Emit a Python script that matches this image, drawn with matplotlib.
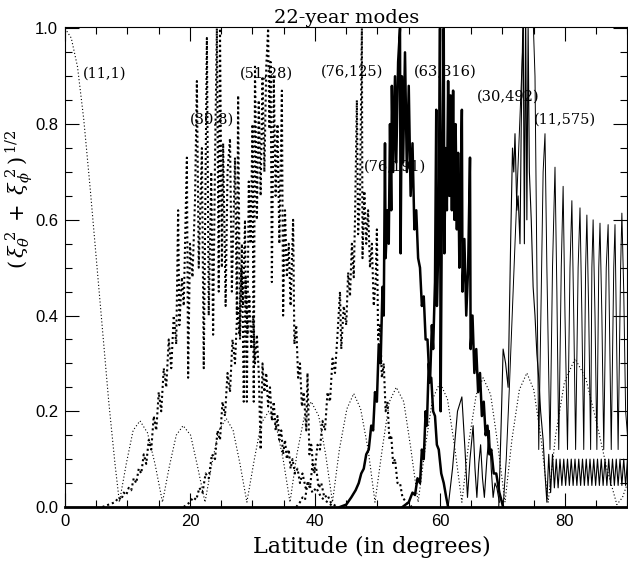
import matplotlib
matplotlib.use("Agg")
import matplotlib.pyplot as plt
from matplotlib.ticker import MultipleLocator

# (latitude, amplitude) pairs
MODE_11_1 = [
    (0, 1.0), (1, 0.98), (2, 0.92), (3, 0.81), (4, 0.67), (5, 0.52), (6, 0.37),
    (7, 0.22), (8, 0.09), (8.7, 0.01),
    (9.8, 0.09), (10.9, 0.16), (12.0, 0.18), (13.2, 0.155), (14.4, 0.09), (15.6, 0.01),
    (16.7, 0.085), (17.8, 0.15), (18.9, 0.17), (20.1, 0.15), (21.2, 0.085), (22.4, 0.01),
    (23.5, 0.09), (24.6, 0.16), (25.8, 0.185), (26.9, 0.16), (28.0, 0.09), (29.1, 0.01),
    (30.3, 0.10), (31.4, 0.175), (32.6, 0.20), (33.7, 0.175), (34.9, 0.10), (36.0, 0.01),
    (37.1, 0.11), (38.3, 0.19), (39.4, 0.22), (40.6, 0.19), (41.7, 0.11), (42.8, 0.01),
    (43.9, 0.12), (45.1, 0.205), (46.2, 0.237), (47.3, 0.205), (48.5, 0.12), (49.6, 0.01),
    (50.8, 0.125), (51.9, 0.22), (53.0, 0.25), (54.2, 0.22), (55.3, 0.125), (56.5, 0.01),
    (57.7, 0.13), (58.8, 0.225), (60.0, 0.26), (61.2, 0.225), (62.3, 0.13), (63.5, 0.01),
    (64.6, 0.135), (65.8, 0.235), (66.9, 0.27), (68.1, 0.235), (69.2, 0.135), (70.4, 0.01),
    (71.5, 0.14), (72.7, 0.245), (73.9, 0.28), (75.0, 0.245), (76.2, 0.14), (77.3, 0.01),
    (78.5, 0.15), (79.9, 0.26), (81.6, 0.31), (83.3, 0.27), (85.0, 0.18), (86.7, 0.08),
    (88.3, 0.005), (89.2, 0.02), (90.0, 0.05),
]

MODE_30_8 = [
    (6.0, 0.0), (7.0, 0.005), (8.0, 0.01), (8.6, 0.02), (9.0, 0.015), (9.4, 0.03),
    (9.8, 0.025), (10.2, 0.04), (10.6, 0.035), (11.0, 0.06), (11.4, 0.05), (11.8, 0.08),
    (12.2, 0.07), (12.6, 0.11), (13.0, 0.09), (13.4, 0.14), (13.8, 0.12), (14.2, 0.19),
    (14.6, 0.16), (15.0, 0.24), (15.4, 0.20), (15.8, 0.29), (16.2, 0.25), (16.6, 0.35),
    (17.0, 0.29), (17.4, 0.40), (17.8, 0.34), (18.1, 0.62), (18.3, 0.38), (18.7, 0.48),
    (19.0, 0.42), (19.5, 0.73), (19.7, 0.27), (20.0, 0.55), (20.4, 0.48), (20.8, 0.64),
    (21.1, 0.89), (21.4, 0.50), (21.9, 0.75), (22.2, 0.29), (22.7, 0.98), (23.0, 0.40),
    (23.4, 0.70), (23.7, 0.36), (24.0, 0.72), (24.3, 1.0), (24.6, 0.45), (24.8, 1.0),
    (25.1, 0.50), (25.3, 0.76), (25.7, 0.42), (26.0, 0.70), (26.4, 0.77), (26.7, 0.45),
    (27.2, 0.73), (27.5, 0.40), (27.7, 0.86), (28.0, 0.35), (28.3, 0.55), (28.6, 0.22),
    (28.9, 0.48), (29.2, 0.36), (29.5, 0.44), (29.8, 0.33), (30.1, 0.40), (30.4, 0.30),
    (30.7, 0.36), (31.0, 0.28), (31.3, 0.12), (31.6, 0.30), (31.9, 0.24), (32.2, 0.28),
    (32.5, 0.21), (32.8, 0.25), (33.1, 0.18), (33.4, 0.22), (33.7, 0.16), (34.0, 0.19),
    (34.3, 0.14), (34.6, 0.16), (34.9, 0.11), (35.2, 0.14), (35.5, 0.10), (35.8, 0.12),
    (36.1, 0.08), (36.4, 0.10), (36.8, 0.07), (37.2, 0.08), (37.6, 0.05), (38.0, 0.07),
    (38.5, 0.04), (39.0, 0.05), (39.6, 0.03), (40.2, 0.04), (41.0, 0.02), (42.0, 0.01),
    (43.0, 0.0),
]

MODE_51_28 = [
    (19.0, 0.0), (20.0, 0.01), (20.5, 0.02), (21.0, 0.015), (21.5, 0.04), (22.0, 0.03),
    (22.5, 0.07), (23.0, 0.06), (23.5, 0.11), (24.0, 0.10), (24.4, 0.16), (24.8, 0.14),
    (25.2, 0.22), (25.6, 0.19), (26.0, 0.28), (26.4, 0.24), (26.8, 0.35), (27.2, 0.30),
    (27.6, 0.42), (27.9, 0.36), (28.2, 0.50), (28.5, 0.42), (28.8, 0.60), (29.1, 0.22),
    (29.4, 0.68), (29.7, 0.55), (30.0, 0.80), (30.2, 0.22), (30.4, 0.92), (30.7, 0.60),
    (31.0, 0.85), (31.3, 0.65), (31.6, 0.90), (31.9, 0.70), (32.2, 0.92), (32.5, 1.0),
    (32.7, 0.79), (32.9, 0.93), (33.1, 0.47), (33.4, 0.90), (33.7, 0.65), (34.0, 0.80),
    (34.3, 0.55), (34.7, 0.87), (34.9, 0.40), (35.2, 0.62), (35.5, 0.48), (35.8, 0.55),
    (36.1, 0.42), (36.5, 0.60), (36.7, 0.34), (37.0, 0.38), (37.3, 0.27), (37.6, 0.30),
    (37.9, 0.21), (38.2, 0.24), (38.6, 0.16), (38.8, 0.28), (39.1, 0.11), (39.4, 0.13),
    (39.8, 0.07), (40.2, 0.08), (40.6, 0.04), (41.0, 0.05), (41.5, 0.02), (42.0, 0.025),
    (42.5, 0.01), (43.5, 0.0),
]

MODE_76_125 = [
    (37.0, 0.0), (37.6, 0.01), (38.0, 0.02), (38.4, 0.015), (38.8, 0.05), (39.2, 0.04),
    (39.6, 0.09), (40.0, 0.08), (40.4, 0.13), (40.8, 0.12), (41.2, 0.18), (41.6, 0.16),
    (42.0, 0.24), (42.4, 0.22), (42.8, 0.31), (43.2, 0.28), (43.6, 0.36), (44.0, 0.45),
    (44.2, 0.33), (44.6, 0.42), (45.0, 0.38), (45.3, 0.49), (45.6, 0.44), (45.9, 0.55),
    (46.2, 0.48), (46.4, 0.60), (46.7, 0.85), (46.9, 0.57), (47.2, 0.65), (47.5, 1.0),
    (47.6, 0.52), (47.9, 0.66), (48.2, 0.55), (48.5, 0.62), (48.8, 0.50), (49.1, 0.55),
    (49.4, 0.42), (49.7, 0.47), (49.9, 0.58), (50.1, 0.35), (50.4, 0.38), (50.7, 0.27),
    (51.0, 0.30), (51.3, 0.20), (51.6, 0.22), (51.9, 0.14), (52.2, 0.15), (52.5, 0.09),
    (52.8, 0.10), (53.2, 0.05), (53.6, 0.05), (54.0, 0.02), (54.6, 0.01), (55.5, 0.0),
]

MODE_76_191 = [
    (44.0, 0.0), (45.0, 0.005), (45.8, 0.02), (46.5, 0.035), (47.0, 0.05), (47.4, 0.07),
    (47.8, 0.08), (48.2, 0.11), (48.6, 0.12), (49.0, 0.17), (49.3, 0.16), (49.6, 0.24),
    (49.9, 0.22), (50.2, 0.34), (50.5, 0.30), (50.8, 0.46), (51.0, 0.40), (51.2, 0.76),
    (51.3, 0.52), (51.6, 0.62), (51.8, 0.55), (52.0, 0.80), (52.2, 0.62), (52.3, 0.88),
    (52.5, 0.70), (52.8, 0.90), (53.0, 0.72), (53.3, 0.93), (53.6, 1.0), (53.7, 0.53),
    (53.9, 0.90), (54.1, 0.72), (54.4, 0.95), (54.7, 0.70), (55.0, 0.88), (55.3, 0.65),
    (55.6, 0.76), (55.9, 0.58), (56.2, 0.62), (56.5, 0.52), (56.8, 0.50), (57.1, 0.42),
    (57.4, 0.44), (57.7, 0.35), (58.0, 0.35), (58.3, 0.27), (58.6, 0.27), (58.9, 0.20),
    (59.2, 0.19), (59.5, 0.13), (59.8, 0.12), (60.2, 0.07), (60.6, 0.05), (61.0, 0.02),
    (61.3, 0.0),
]

# thin solid bumps between the (63,316) and (30,492) envelopes
MODE_TAIL = [
    (61.3, 0.0), (62.0, 0.08), (62.8, 0.20), (63.5, 0.23), (64.0, 0.12), (64.4, 0.02),
    (64.8, 0.10), (65.3, 0.17), (65.6, 0.08), (65.9, 0.02), (66.2, 0.09), (66.5, 0.13),
    (66.8, 0.06), (67.1, 0.02), (67.5, 0.10), (67.9, 0.16), (68.2, 0.08), (68.5, 0.02),
    (68.8, 0.05), (69.1, 0.04), (69.5, 0.01),
]

MODE_63_316 = [
    (54.0, 0.0), (55.0, 0.01), (55.6, 0.03), (56.0, 0.025), (56.4, 0.06), (56.8, 0.05),
    (57.1, 0.12), (57.4, 0.10), (57.7, 0.20), (57.9, 0.17), (58.2, 0.30), (58.4, 0.26),
    (58.7, 0.38), (58.9, 0.33), (59.2, 0.47), (59.4, 0.83), (59.5, 0.42), (59.8, 0.58),
    (60.0, 1.0), (60.1, 0.20), (60.3, 0.62), (60.6, 1.0), (60.7, 0.53), (60.9, 0.75),
    (61.1, 0.62), (61.3, 0.89), (61.5, 0.65), (61.7, 0.86), (61.9, 0.62), (62.1, 0.87),
    (62.3, 0.60), (62.5, 0.80), (62.7, 0.58), (62.9, 0.74), (63.1, 0.50), (63.3, 0.66),
    (63.5, 0.83), (63.6, 0.45), (63.9, 0.56), (64.2, 0.40), (64.5, 0.50), (64.8, 0.73),
    (64.9, 0.33), (65.2, 0.40), (65.5, 0.28), (65.8, 0.33), (66.1, 0.24), (66.4, 0.28),
    (66.7, 0.19), (67.0, 0.22), (67.3, 0.15), (67.6, 0.17), (67.9, 0.11), (68.2, 0.12),
    (68.6, 0.07), (69.0, 0.07), (69.5, 0.03), (70.1, 0.0),
]

MODE_30_492 = [
    (69.4, 0.0), (69.8, 0.18), (70.1, 0.33), (70.5, 0.30), (70.9, 0.25), (71.3, 0.55),
    (71.6, 0.75), (71.8, 0.70), (72.0, 0.78), (72.3, 0.62), (72.5, 0.65), (72.8, 0.55),
    (73.0, 0.80), (73.3, 1.05), (73.5, 0.55), (73.7, 1.05), (73.9, 0.60), (74.1, 1.0),
    (74.3, 0.70), (74.6, 0.60), (74.9, 0.46), (75.2, 0.40), (75.5, 0.32), (75.8, 0.27),
    (76.1, 0.20), (76.5, 0.14), (76.8, 0.07), (77.1, 0.01),
    (77.4, 0.11), (77.7, 0.03), (78.0, 0.11), (78.3, 0.04), (78.6, 0.10), (78.9, 0.04),
    (79.2, 0.10), (79.5, 0.045), (79.8, 0.10), (80.1, 0.045), (80.4, 0.10), (80.7, 0.045),
    (81.0, 0.10), (81.3, 0.045), (81.6, 0.10), (81.9, 0.045), (82.2, 0.10), (82.5, 0.045),
    (82.8, 0.10), (83.1, 0.045), (83.4, 0.10), (83.7, 0.045), (84.0, 0.10), (84.3, 0.045),
    (84.6, 0.10), (84.9, 0.045), (85.2, 0.10), (85.5, 0.045), (85.8, 0.10), (86.1, 0.045),
    (86.4, 0.10), (86.7, 0.045), (87.0, 0.10), (87.3, 0.045), (87.6, 0.10), (87.9, 0.045),
    (88.2, 0.10), (88.5, 0.045), (88.8, 0.10), (89.1, 0.045), (89.4, 0.10), (89.7, 0.045),
    (90.0, 0.10),
]

MODE_11_575 = [
    (70.1, 0.0), (70.6, 0.10), (71.1, 0.25), (71.7, 0.45), (72.3, 0.65), (72.9, 0.85),
    (73.5, 1.05), (74.7, 1.1), (75.2, 0.90), (75.5, 0.50), (75.8, 0.12), (76.2, 0.45),
    (76.5, 0.70), (76.8, 0.78), (77.1, 0.50), (77.6, 0.12), (78.0, 0.50), (78.4, 0.71),
    (78.7, 0.45), (79.0, 0.12), (79.4, 0.50), (79.7, 0.67), (80.0, 0.40), (80.4, 0.12),
    (80.8, 0.50), (81.1, 0.64), (81.4, 0.40), (81.7, 0.12), (82.1, 0.50), (82.4, 0.625),
    (82.7, 0.40), (83.0, 0.12), (83.3, 0.50), (83.5, 0.61), (83.8, 0.40), (84.1, 0.12),
    (84.3, 0.50), (84.5, 0.60), (84.8, 0.40), (85.1, 0.12), (85.4, 0.50), (85.6, 0.593),
    (85.9, 0.40), (86.2, 0.12), (86.6, 0.50), (86.9, 0.59), (87.1, 0.40), (87.4, 0.12),
    (87.8, 0.50), (88.0, 0.59), (88.2, 0.40), (88.5, 0.12), (88.9, 0.50), (89.1, 0.614),
    (89.4, 0.45), (89.7, 0.20), (90.0, 0.15),
]

LABELS = ["(11,1)", "(30,8)", "(51,28)", "(76,125)", "(76,191)", "(63,316)", "(30,492)", "(11,575)"]
LABEL_LAT = [6.4, 23.5, 32.2, 45.9, 52.8, 60.8, 70.9, 80.0]
LABEL_VAL = [0.906, 0.81, 0.906, 0.91, 0.712, 0.91, 0.858, 0.81]

DOT = (0, (1, 1.4))
curves = [
    (MODE_11_1, (0, (1, 2)), 0.8),
    (MODE_30_8, DOT, 1.5),
    (MODE_51_28, DOT, 1.5),
    (MODE_76_125, DOT, 1.5),
    (MODE_76_191, "-", 1.8),
    (MODE_TAIL, "-", 0.8),
    (MODE_63_316, "-", 1.8),
    (MODE_30_492, "-", 0.8),
    (MODE_11_575, "-", 0.7),
]

plt.rcParams["mathtext.fontset"] = "dejavuserif"
fig = plt.figure(figsize=(6.28, 5.69), dpi=100)
ax = fig.add_axes([0.1035, 0.109, 0.8957, 0.8436])

for pts, ls, lw in curves:
    x, y = zip(*pts)
    ax.plot(x, y, color="black", linestyle=ls, linewidth=lw)

for txt, lx, ly in zip(LABELS, LABEL_LAT, LABEL_VAL):
    ax.text(lx, ly, txt, ha="center", va="center", fontsize=10.5, family="DejaVu Serif")

ax.set_xlim(0, 90)
ax.set_ylim(0, 1.003)
ax.xaxis.set_major_locator(MultipleLocator(20))
ax.xaxis.set_minor_locator(MultipleLocator(5))
ax.yaxis.set_minor_locator(MultipleLocator(0.05))
ax.set_yticks([0.0, 0.2, 0.4, 0.6, 0.8, 1.0])
ax.set_yticklabels(["0.0", "0.2", "0.4", "0.6", "0.8", "1.0"])
ax.tick_params(which="both", direction="in", top=True, right=True, width=0.8)
ax.tick_params(which="major", length=10, labelsize=12, pad=5)
ax.tick_params(which="minor", length=5)
for lab in ax.get_xticklabels() + ax.get_yticklabels():
    lab.set_family("Liberation Sans")
ax.spines["bottom"].set_linewidth(2)

ax.set_title("22-year modes", fontsize=14, family="DejaVu Serif", pad=2)
fig.text(0.592, 0.038, "Latitude (in degrees)", ha="center", va="center",
         fontsize=16, family="DejaVu Serif")
fig.text(0.031, 0.65, r"$(\,\xi_\theta^{\;2}\; + \;\xi_\phi^{\;2}\,)^{\,1/2}$",
         rotation=90, ha="center", va="center", fontsize=15)

fig.savefig("out.png", dpi=100)
